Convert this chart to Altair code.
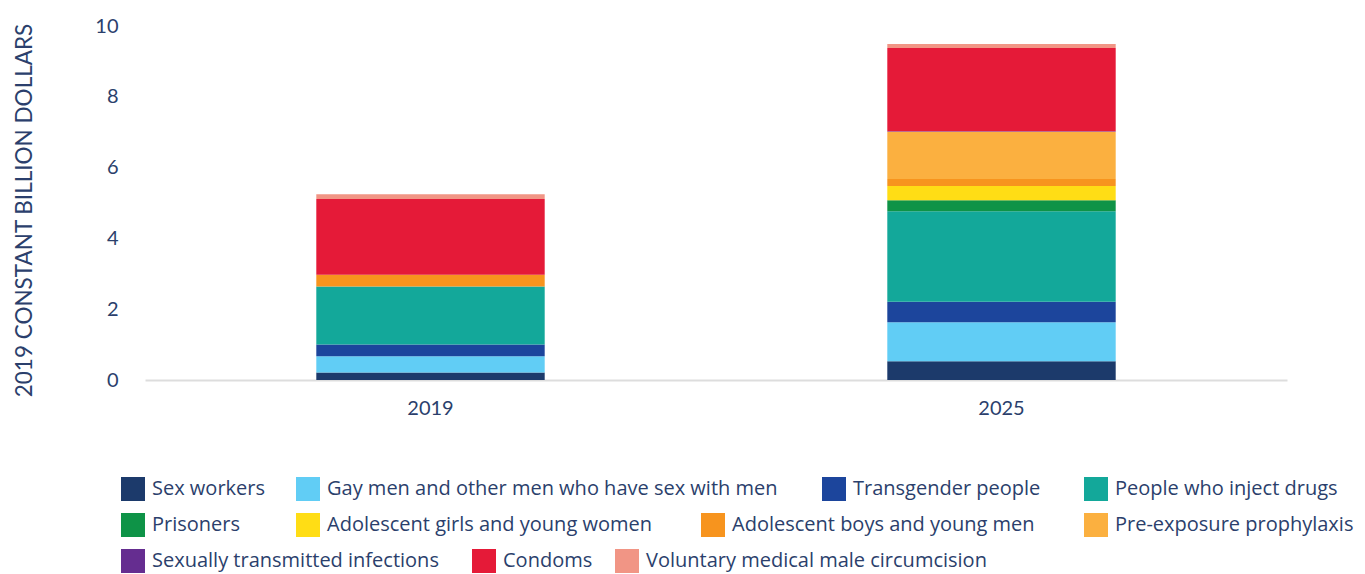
import altair as alt
import pandas as pd

# ---- data ----
years = ["2019", "2025"]
categories = [
    "Sex workers",
    "Gay men and other men who have sex with men",
    "Transgender people",
    "People who inject drugs",
    "Prisoners",
    "Adolescent girls and young women",
    "Adolescent boys and young men",
    "Pre-exposure prophylaxis",
    "Sexually transmitted infections",
    "Condoms",
    "Voluntary medical male circumcision",
]
values_2019 = [0.21, 0.46, 0.33, 1.64, 0.0, 0.0, 0.33, 0.0, 0.0, 2.14, 0.14]
values_2025 = [0.53, 1.10, 0.58, 2.56, 0.31, 0.40, 0.20, 1.33, 0.02, 2.35, 0.11]
y_ticks = [0, 2, 4, 6, 8, 10]

# ---- styles ----
colors = ["#1C3A6B", "#61CDF5", "#1C459C", "#13A89A", "#0E9347", "#FFDD15",
          "#F7941E", "#FBB040", "#652D90", "#E51A38", "#F19585"]
TEXT = "#2B3F6C"
FONT = "Lato"
LEGFONT = "Open Sans"
# legend entry positions (relative to plot origin), styling only
legend_x = [-24, 151, 677, 939, -24, 151, 556, 939, -24, 327, 470]
legend_y = [451, 451, 451, 451, 487, 487, 487, 487, 523, 523, 523]

rows = []
for y, vals in zip(years, [values_2019, values_2025]):
    for i, (c, v) in enumerate(zip(categories, vals)):
        rows.append({"year": y, "category": c, "value": v, "idx": i})
df = pd.DataFrame(rows)

bars = alt.Chart(df).mark_bar().encode(
    x=alt.X("year:N", scale=alt.Scale(paddingInner=0.6, paddingOuter=0.3),
            axis=alt.Axis(title=None, labelAngle=0, ticks=False, domainColor="#DDDDDD",
                          domainWidth=2, labelFontSize=20, labelFont=FONT,
                          labelColor=TEXT, labelPadding=18)),
    y=alt.Y("value:Q", stack="zero", scale=alt.Scale(domain=[0, 10]),
            axis=alt.Axis(values=y_ticks, grid=False, domain=False, ticks=False,
                          labelFontSize=20, labelFont=FONT, labelColor=TEXT,
                          labelPadding=27, title="2019 CONSTANT BILLION DOLLARS",
                          titleFont=FONT, titleFontSize=22.5, titleFontWeight="normal",
                          titleColor=TEXT, titleAngle=-90, titleX=-121, titleY=184,
                          titleAlign="center", titleBaseline="middle")),
    color=alt.Color("category:N", scale=alt.Scale(domain=categories, range=colors),
                    legend=None),
    order=alt.Order("idx:Q", sort="ascending"),
)

layers = [bars]
for c, col, lx, ly in zip(categories, colors, legend_x, legend_y):
    leg = alt.Chart(pd.DataFrame({"category": [c]})).mark_square(opacity=0).encode(
        color=alt.Color("category:N", scale=alt.Scale(domain=[c], range=[col]),
                        legend=alt.Legend(orient="none", legendX=lx, legendY=ly,
                                          title=None, symbolType="square",
                                          symbolSize=576, symbolOpacity=1,
                                          symbolStrokeWidth=0, labelFont=LEGFONT,
                                          labelFontSize=20, labelColor=TEXT,
                                          labelOffset=7, labelLimit=0, padding=0))
    )
    layers.append(leg)

chart = alt.layer(*layers).resolve_scale(color="independent").properties(
    width=1142, height=354,
    autosize=alt.AutoSizeParams(type="none"),
    padding={"left": 137, "top": 18, "right": 70, "bottom": 195},
).configure_view(stroke=None)

chart.save("out.html", embed_options={"renderer": "svg", "actions": False})
